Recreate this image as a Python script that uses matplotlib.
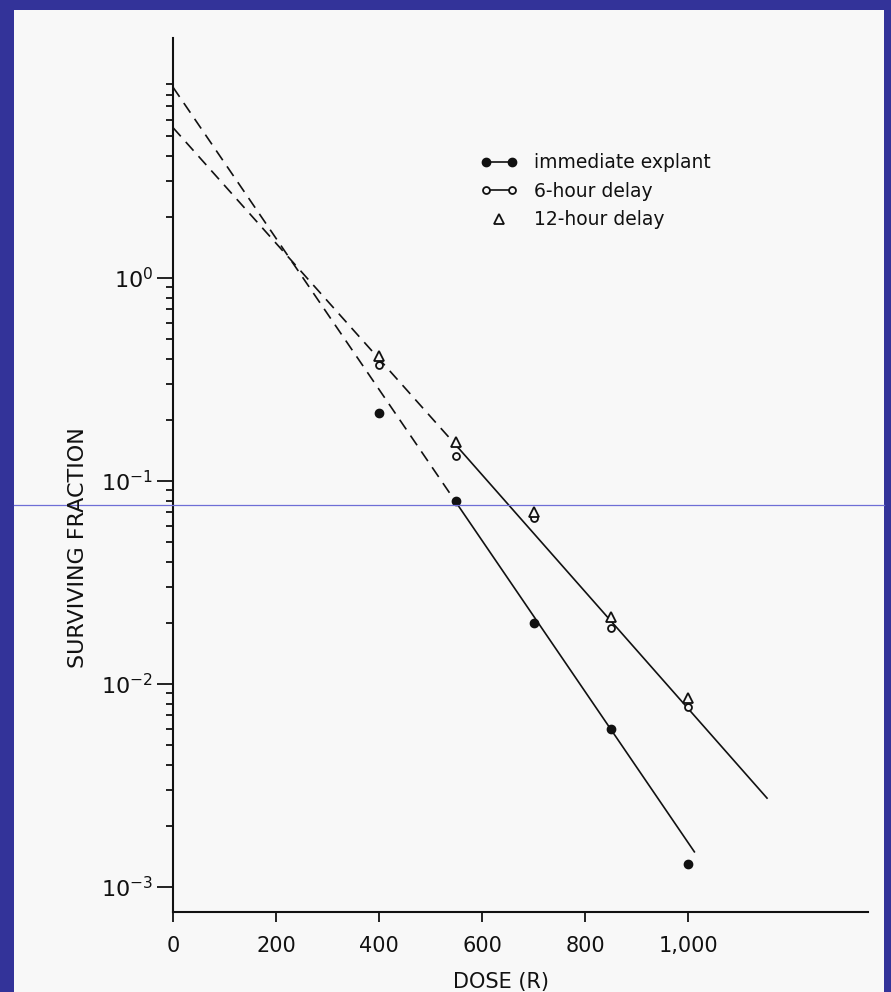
import matplotlib
matplotlib.use("Agg")
import matplotlib.pyplot as plt
from matplotlib.lines import Line2D
from matplotlib.legend_handler import HandlerLine2D
from matplotlib.patches import Rectangle
import matplotlib.ticker as mticker

# ---------------- data ----------------
dose = [400, 550, 700, 850, 1000]
immediate = [0.216, 0.0797, 0.0200, 0.0060, 0.0013]
delay6 = [0.373, 0.133, 0.0657, 0.0189, 0.0077]
delay12 = [0.413, 0.156, 0.0703, 0.0214, 0.0085]

imm_dash_dose = [0, 550]
imm_dash_val = [8.7, 0.078]
imm_fit_dose = [550, 1012]
imm_fit_val = [0.078, 0.00149]

del_dash_dose = [0, 554]
del_dash_val = [5.5, 0.1454]
del_fit_dose = [554, 1153]
del_fit_val = [0.1454, 0.00274]

x_ticks = [0, 200, 400, 600, 800, 1000]
x_tick_labels = ['0', '200', '400', '600', '800', '1,000']
y_major = [1e-3, 1e-2, 1e-1, 1]
y_tick_labels = [r'$10^{-3}$', r'$10^{-2}$', r'$10^{-1}$', r'$10^{0}$']
legend_labels = ['immediate explant', '6-hour delay', '12-hour delay']

# ---------------- figure ----------------
W, H = 891, 992
fig = plt.figure(figsize=(W / 100, H / 100), dpi=100)
fig.patch.set_facecolor('#333399')
fig.add_artist(Rectangle((14 / W, 0), (W - 14 - 7) / W, (H - 10) / H,
                         transform=fig.transFigure, facecolor='#f8f8f8',
                         edgecolor='none', zorder=-10))
fig.add_artist(Line2D([14 / W, (W - 7) / W], [1 - 505.5 / H, 1 - 505.5 / H],
                      transform=fig.transFigure, color='#6e6ed6', lw=0.9))

ax = fig.add_axes([173 / W, 1 - 912 / H, (868 - 173) / W, (912 - 38) / H])
ax.set_facecolor('none')
ax.set_yscale('log')
ax.set_xlim(0, 1349)
ax.set_ylim(7.53e-4, 15.2)

ink = '#111111'
# fitted lines
ax.plot(imm_dash_dose, imm_dash_val, color=ink, lw=1.2, ls=(0, (7, 4.5)))
ax.plot(del_dash_dose, del_dash_val, color=ink, lw=1.2, ls=(0, (7, 4.5)))
ax.plot(imm_fit_dose, imm_fit_val, color=ink, lw=1.2)
ax.plot(del_fit_dose, del_fit_val, color=ink, lw=1.2)

# data points
ax.plot(dose, immediate, ls='none', marker='o', ms=6, color=ink, zorder=5)
ax.plot(dose, delay6, ls='none', marker='o', ms=5, mfc='#f8f8f8', mec=ink,
        mew=1.3, zorder=5)
ax.plot(dose, delay12, ls='none', marker='^', ms=7, mfc='#f8f8f8', mec=ink,
        mew=1.3, zorder=5)

# axes styling
for s in ['top', 'right']:
    ax.spines[s].set_visible(False)
for s in ['left', 'bottom']:
    ax.spines[s].set_linewidth(1.5)
    ax.spines[s].set_color(ink)

ax.xaxis.set_major_locator(mticker.FixedLocator(x_ticks))
ax.xaxis.set_major_formatter(mticker.FixedFormatter(x_tick_labels))
ax.yaxis.set_major_locator(mticker.FixedLocator(y_major))
ax.yaxis.set_major_formatter(mticker.FixedFormatter(y_tick_labels))
minors = [m * 10.0 ** e for e in range(-3, 1) for m in range(2, 10)]
ax.yaxis.set_minor_locator(mticker.FixedLocator(minors))
ax.yaxis.set_minor_formatter(mticker.NullFormatter())

ax.tick_params(axis='x', which='major', length=7, width=1.3, color=ink,
               labelsize=15, pad=10, labelcolor=ink)
ax.tick_params(axis='y', which='major', length=11.5, width=1.3, color=ink,
               labelsize=16, pad=3, labelcolor=ink)
ax.tick_params(axis='y', which='minor', length=5, width=1.3, color=ink)

fig.text(78 / W, 1 - 548 / H, 'SURVIVING FRACTION', rotation=90,
         ha='center', va='center', fontsize=16, color=ink)
fig.text(501 / W, 1 - 982 / H, 'DOSE (R)', ha='center', va='center',
         fontsize=15, color=ink)

# legend
h1 = Line2D([], [], color=ink, lw=1.2, marker='o', ms=6)
h2 = Line2D([], [], color=ink, lw=1.2, marker='o', ms=5, mfc='#f8f8f8', mew=1.3)
h3 = Line2D([], [], color=ink, ls='none', marker='^', ms=7, mfc='#f8f8f8', mew=1.3)
leg = ax.legend([h1, h2, h3], legend_labels, loc='upper left',
                bbox_to_anchor=(0.442, 0.868), borderaxespad=0, borderpad=0,
                frameon=False, fontsize=13.5, numpoints=2, handlelength=2.0,
                handletextpad=0.85, labelspacing=0.5,
                handler_map={h3: HandlerLine2D(numpoints=1)})
for t in leg.get_texts():
    t.set_color(ink)

fig.savefig('out.png', dpi=100, facecolor=fig.get_facecolor())
